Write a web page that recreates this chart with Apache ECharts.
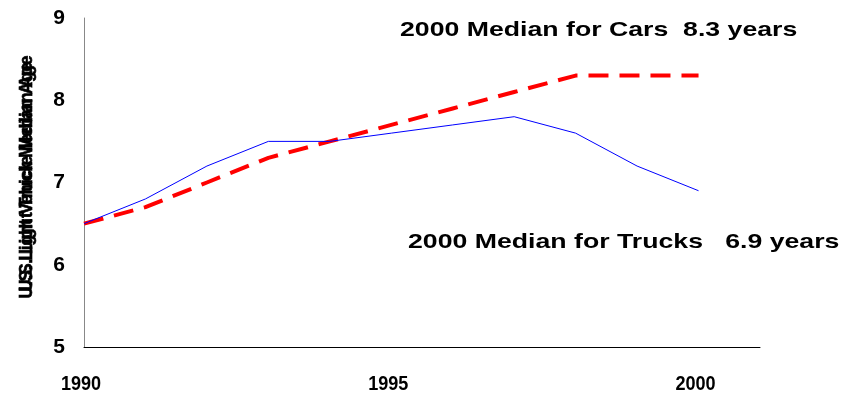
<!DOCTYPE html>
<html>
<head>
<meta charset="utf-8">
<script src="https://cdn.jsdelivr.net/npm/echarts@6/dist/echarts.min.js"></script>
<style>
  html, body { margin: 0; padding: 0; background: #fff; }
  #chart { width: 846px; height: 400px; }
</style>
</head>
<body>
<div id="chart"></div>
<script>
// Median age of U.S. vehicles in operation, 1990-2000
const years = [1990, 1991, 1992, 1993, 1994, 1995, 1996, 1997, 1998, 1999, 2000];
const truckAge = [6.5, 6.8, 7.2, 7.5, 7.5, 7.6, 7.7, 7.8, 7.6, 7.2, 6.9];
const carAge = [6.5, 6.7, 7.0, 7.3, 7.5, 7.7, 7.9, 8.1, 8.3, 8.3, 8.3];
const yTicks = [5, 6, 7, 8, 9];
const xTicks = [1990, 1995, 2000];
const axisTitles = ['U.S. Light Vehicle Median Age', 'U.S. Light Truck Median Age'];
const notes = ['2000 Median for Cars  8.3 years', '2000 Median for Trucks   6.9 years'];

const pair = (xs, ys) => xs.map((x, i) => [x, ys[i]]);
const sans = "'Liberation Sans', Arial, sans-serif";

const chart = echarts.init(document.getElementById('chart'), null, { renderer: 'canvas' });
chart.setOption({
  animation: false,
  backgroundColor: '#fff',
  grid: { left: 84, right: 86, top: 18, bottom: 53, containLabel: false },
  xAxis: {
    type: 'value',
    min: xTicks[0],
    max: 2001,
    interval: 5,
    splitLine: { show: false },
    axisTick: { show: false },
    axisLine: { lineStyle: { color: '#000', width: 1 } },
    axisLabel: { show: false }
  },
  yAxis: {
    type: 'value',
    min: yTicks[0],
    max: yTicks[yTicks.length - 1],
    interval: 1,
    splitLine: { show: false },
    axisTick: { show: false },
    axisLine: { show: true, lineStyle: { color: '#888', width: 1 } },
    axisLabel: {
      margin: 19,
      color: '#000',
      fontFamily: sans,
      fontWeight: 'bold',
      fontSize: 21
    }
  },
  series: [
    {
      name: 'Trucks',
      type: 'line',
      data: pair(years, truckAge),
      symbol: 'none',
      lineStyle: { color: '#0000ff', width: 1 },
      z: 3
    },
    {
      name: 'Cars',
      type: 'line',
      data: pair(years, carAge),
      symbol: 'none',
      lineStyle: { color: '#ff0000', width: 4, type: [20, 11], cap: 'butt' },
      z: 2
    }
  ]
});

const textStyle = (text, size, extra) => Object.assign({
  text: text, fill: '#000', fontFamily: sans, fontWeight: 'bold', fontSize: size
}, extra);

// Year labels: compact bold digits placed under their axis positions
const yearLabels = xTicks.map(v => {
  const p = chart.convertToPixel({ xAxisIndex: 0, yAxisIndex: 0 }, [v, yTicks[0]]);
  return {
    type: 'text',
    x: p[0] - 3,
    y: p[1] + 37,
    scaleX: 0.86,
    style: textStyle(String(v), 21, { align: 'center', verticalAlign: 'middle' })
  };
});

// Overlaid vertical axis titles sharing one centre line
const titles = axisTitles.map(t => ({
  type: 'text',
  x: 36,
  y: 177,
  rotation: Math.PI / 2,
  scaleY: 1.1,
  style: textStyle(t, 17, { align: 'center', verticalAlign: 'bottom', stroke: '#000', lineWidth: 0.6 })
}));

const annotations = [
  { text: notes[0], x: 400, y: 30 },
  { text: notes[1], x: 408, y: 242 }
].map(n => ({
  type: 'text',
  x: n.x,
  y: n.y,
  scaleX: 1.27,
  style: textStyle(n.text, 21, { align: 'left', verticalAlign: 'middle' })
}));

chart.setOption({ graphic: [...yearLabels, ...titles, ...annotations] });
</script>
</body>
</html>
